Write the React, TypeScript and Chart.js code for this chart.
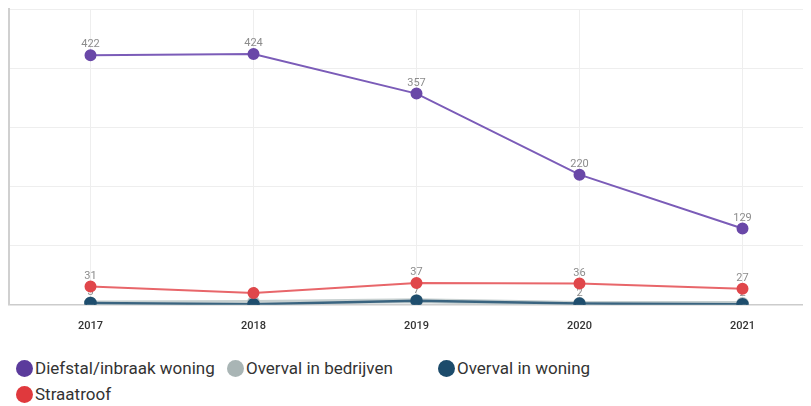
import React, { useEffect, useRef } from "react";
import { Chart, registerables } from "chart.js";

Chart.register(...registerables);

const years = ["2017", "2018", "2019", "2020", "2021"];
const diefstalInbraakWoning = [422, 424, 357, 220, 129];
const overvalInBedrijven = [3, 4, 7, 2, 2];
const overvalInWoning = [3, 1, 7, 2, 1];
const straatroof = [31, 20, 37, 36, 27];

const seriesNames = ["Diefstal/inbraak woning", "Overval in bedrijven", "Overval in woning", "Straatroof"];
const legendColors = ["#5b3b9c", "#a9b5b5", "#1c4b6b", "#e0393d"];

const FONT = "Roboto, 'Noto Sans', sans-serif";

const labelPlugin = {
  id: "valueLabels",
  beforeDatasetsDraw(chart: any) {
    chart.$labelBoxes = [];
  },
  afterDatasetDraw(chart: any, args: any) {
    const ctx = chart.ctx;
    const meta = args.meta;
    const ds = chart.data.datasets[args.index];
    const boxes = chart.$labelBoxes || [];
    ctx.save();
    ctx.font = "11px " + FONT;
    ctx.fillStyle = "#8c8c8c";
    ctx.textAlign = "center";
    ctx.textBaseline = "bottom";
    meta.data.forEach((pt: any, i: number) => {
      const text = String(ds.data[i]);
      const w = ctx.measureText(text).width;
      const x = pt.x;
      const y = pt.y - 5;
      const box = { l: x - w / 2, r: x + w / 2, t: y - 10, b: y };
      const hit = boxes.some((o: any) => !(box.r < o.l || box.l > o.r || box.b < o.t || box.t > o.b));
      if (hit) return;
      boxes.push(box);
      ctx.fillText(text, x, y);
    });
    ctx.restore();
  },
};

export default function App() {
  const ref = useRef<HTMLCanvasElement | null>(null);
  useEffect(() => {
    document.documentElement.style.overflow = "hidden";
    if (!ref.current) return;
    const chart = new Chart(ref.current, {
      type: "line",
      data: {
        labels: years,
        datasets: [
          {
            label: seriesNames[0],
            data: diefstalInbraakWoning,
            borderColor: "#7b5cb8",
            backgroundColor: "#6a48a8",
            pointBackgroundColor: "#6a48a8",
            pointBorderColor: "#6a48a8",
            borderWidth: 2,
            pointRadius: 5,
            tension: 0,
            order: 4,
          } as any,
          {
            label: seriesNames[1],
            data: overvalInBedrijven,
            borderColor: "#c7d0d0",
            backgroundColor: "#b3bebe",
            pointBackgroundColor: "#b3bebe",
            pointBorderColor: "#b3bebe",
            borderWidth: 5,
            pointRadius: 4,
            tension: 0,
            order: 3,
          },
          {
            label: seriesNames[2],
            data: overvalInWoning,
            borderColor: "#3a6480",
            backgroundColor: "#1f4e6e",
            pointBackgroundColor: "#1f4e6e",
            pointBorderColor: "#1f4e6e",
            borderWidth: 2.5,
            pointRadius: 5,
            tension: 0,
            order: 2,
          },
          {
            label: seriesNames[3],
            data: straatroof,
            borderColor: "#e8666a",
            backgroundColor: "#e0474b",
            pointBackgroundColor: "#e0474b",
            pointBorderColor: "#e0474b",
            borderWidth: 2,
            pointRadius: 5,
            tension: 0,
            order: 1,
          },
        ],
      },
      options: {
        animation: false,
        responsive: false,
        maintainAspectRatio: false,
        layout: { autoPadding: false, padding: { left: 1, top: 1, right: 0, bottom: 0 } },
        plugins: {
          legend: { display: false },
          tooltip: { enabled: false },
        },
        scales: {
          x: {
            offset: true,
            grid: { offset: false, color: "#eeeeee", drawTicks: false },
            border: { color: "#cccccc", width: 1.5 },
            ticks: {
              color: "#333333",
              font: { family: FONT, size: 11, weight: "500" },
              padding: 15,
            },
          },
          y: {
            min: 0,
            max: 500,
            ticks: { display: false, stepSize: 100 },
            grid: { color: "#eeeeee", drawTicks: false },
            border: { color: "#d0d0d0", width: 2 },
          },
        },
      },
      plugins: [labelPlugin],
    });
    return () => chart.destroy();
  }, []);

  return (
    <div style={{ width: 795, fontFamily: FONT }}>
      <canvas ref={ref} width={816} height={340} style={{ display: "block", width: 816, height: 340 }} />
      <div style={{ display: "flex", flexWrap: "wrap", paddingLeft: 8, marginTop: 7, width: 803 }}>
        {seriesNames.map((name, i) => (
          <div key={name} style={{ width: 211, height: 26, display: "flex", alignItems: "center" }}>
            <span
              style={{
                width: 17,
                height: 17,
                borderRadius: "50%",
                background: legendColors[i],
                display: "inline-block",
                marginRight: 2,
                flex: "none",
              }}
            />
            <span style={{ fontSize: 17, color: "#333", whiteSpace: "nowrap" }}>{name}</span>
          </div>
        ))}
      </div>
    </div>
  );
}
